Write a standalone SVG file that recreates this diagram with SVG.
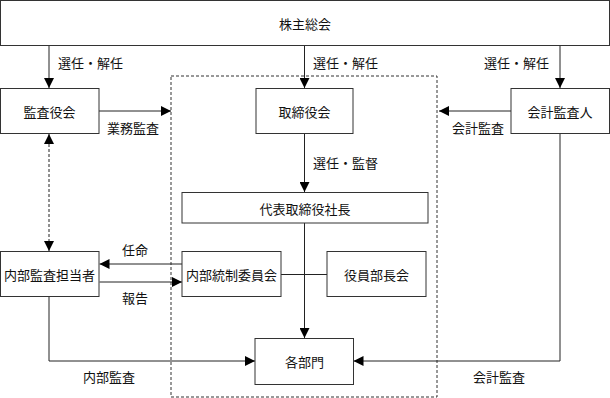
<svg xmlns="http://www.w3.org/2000/svg" width="610" height="398" viewBox="0 0 610 398">
<style>
.box{fill:#fff;stroke:#333;stroke-width:1}
.t{font-family:"Noto Sans CJK JP","Noto Sans",sans-serif;font-size:13px;fill:#111;dominant-baseline:central}
.c{text-anchor:middle}
.ln{fill:none;stroke:#222;stroke-width:1}
.dash{stroke-dasharray:3,2}
</style>
<defs>
<marker id="ah" markerUnits="userSpaceOnUse" markerWidth="10" markerHeight="10" refX="10" refY="5" orient="auto">
<path d="M0,0 L10,5 L0,10 z" fill="#000"/>
</marker>
<marker id="ahs" markerUnits="userSpaceOnUse" markerWidth="10" markerHeight="10" refX="0" refY="5" orient="auto">
<path d="M10,0 L0,5 L10,10 z" fill="#000"/>
</marker>
</defs>
<rect x="171" y="76" width="266" height="321" fill="none" stroke="#333" stroke-width="1" stroke-dasharray="3,2"/>
<g id="connectors">
<path class="ln" d="M49,45.5 V88" marker-end="url(#ah)"/>
<path class="ln" d="M304.5,45.5 V88" marker-end="url(#ah)"/>
<path class="ln" d="M560,45.5 V88" marker-end="url(#ah)"/>
<path class="ln" d="M99,111 H171" marker-end="url(#ah)"/>
<path class="ln" d="M511,111 H439" marker-end="url(#ah)"/>
<path class="ln" d="M304.5,134 V192" marker-end="url(#ah)"/>
<path class="ln dash" d="M49,134 V251" marker-start="url(#ahs)" marker-end="url(#ah)"/>
<path class="ln" d="M182,264 H99.5" marker-end="url(#ah)"/>
<path class="ln" d="M99.5,282 H182" marker-end="url(#ah)"/>
<path class="ln" d="M281,274.5 H327"/>
<path class="ln" d="M304.5,223 V338" marker-end="url(#ah)"/>
<path class="ln" d="M49,296.5 V361 H255" marker-end="url(#ah)"/>
<path class="ln" d="M560,134 V361 H353.5" marker-end="url(#ah)"/>
</g>
<g id="labels">
<text class="t" x="58" y="62">選任・解任</text>
<text class="t" x="313" y="62">選任・解任</text>
<text class="t" x="484" y="62">選任・解任</text>
<text class="t" x="107" y="127">業務監査</text>
<text class="t" x="452" y="127">会計監査</text>
<text class="t" x="313" y="162">選任・監督</text>
<text class="t" x="122" y="249">任命</text>
<text class="t" x="122" y="297">報告</text>
<text class="t" x="83" y="376">内部監査</text>
<text class="t" x="473" y="376">会計監査</text>
</g>
<g id="n-shareholders"><rect class="box" x="0.5" y="0.5" width="609" height="45"/><text class="t c" x="305" y="23">株主総会</text></g>
<g id="n-auditors"><rect class="box" x="0.5" y="88.5" width="98.5" height="45"/><text class="t c" x="49.5" y="111">監査役会</text></g>
<g id="n-board"><rect class="box" x="256" y="88.5" width="97" height="45"/><text class="t c" x="304.5" y="111">取締役会</text></g>
<g id="n-accounting"><rect class="box" x="511" y="88.5" width="98.5" height="45"/><text class="t c" x="560" y="111">会計監査人</text></g>
<g id="n-president"><rect class="box" x="182" y="192.5" width="246" height="30.5"/><text class="t c" x="305" y="208">代表取締役社長</text></g>
<g id="n-internal-auditor"><rect class="box" x="0.5" y="251.5" width="98.5" height="45"/><text class="t c" x="49.5" y="274">内部監査担当者</text></g>
<g id="n-control"><rect class="box" x="182" y="251.5" width="99" height="45"/><text class="t c" x="231.5" y="274">内部統制委員会</text></g>
<g id="n-managers"><rect class="box" x="327" y="251.5" width="99" height="45"/><text class="t c" x="376.5" y="274">役員部長会</text></g>
<g id="n-depts"><rect class="box" x="255" y="338.5" width="98.5" height="46"/><text class="t c" x="304.5" y="361.5">各部門</text></g>
</svg>
